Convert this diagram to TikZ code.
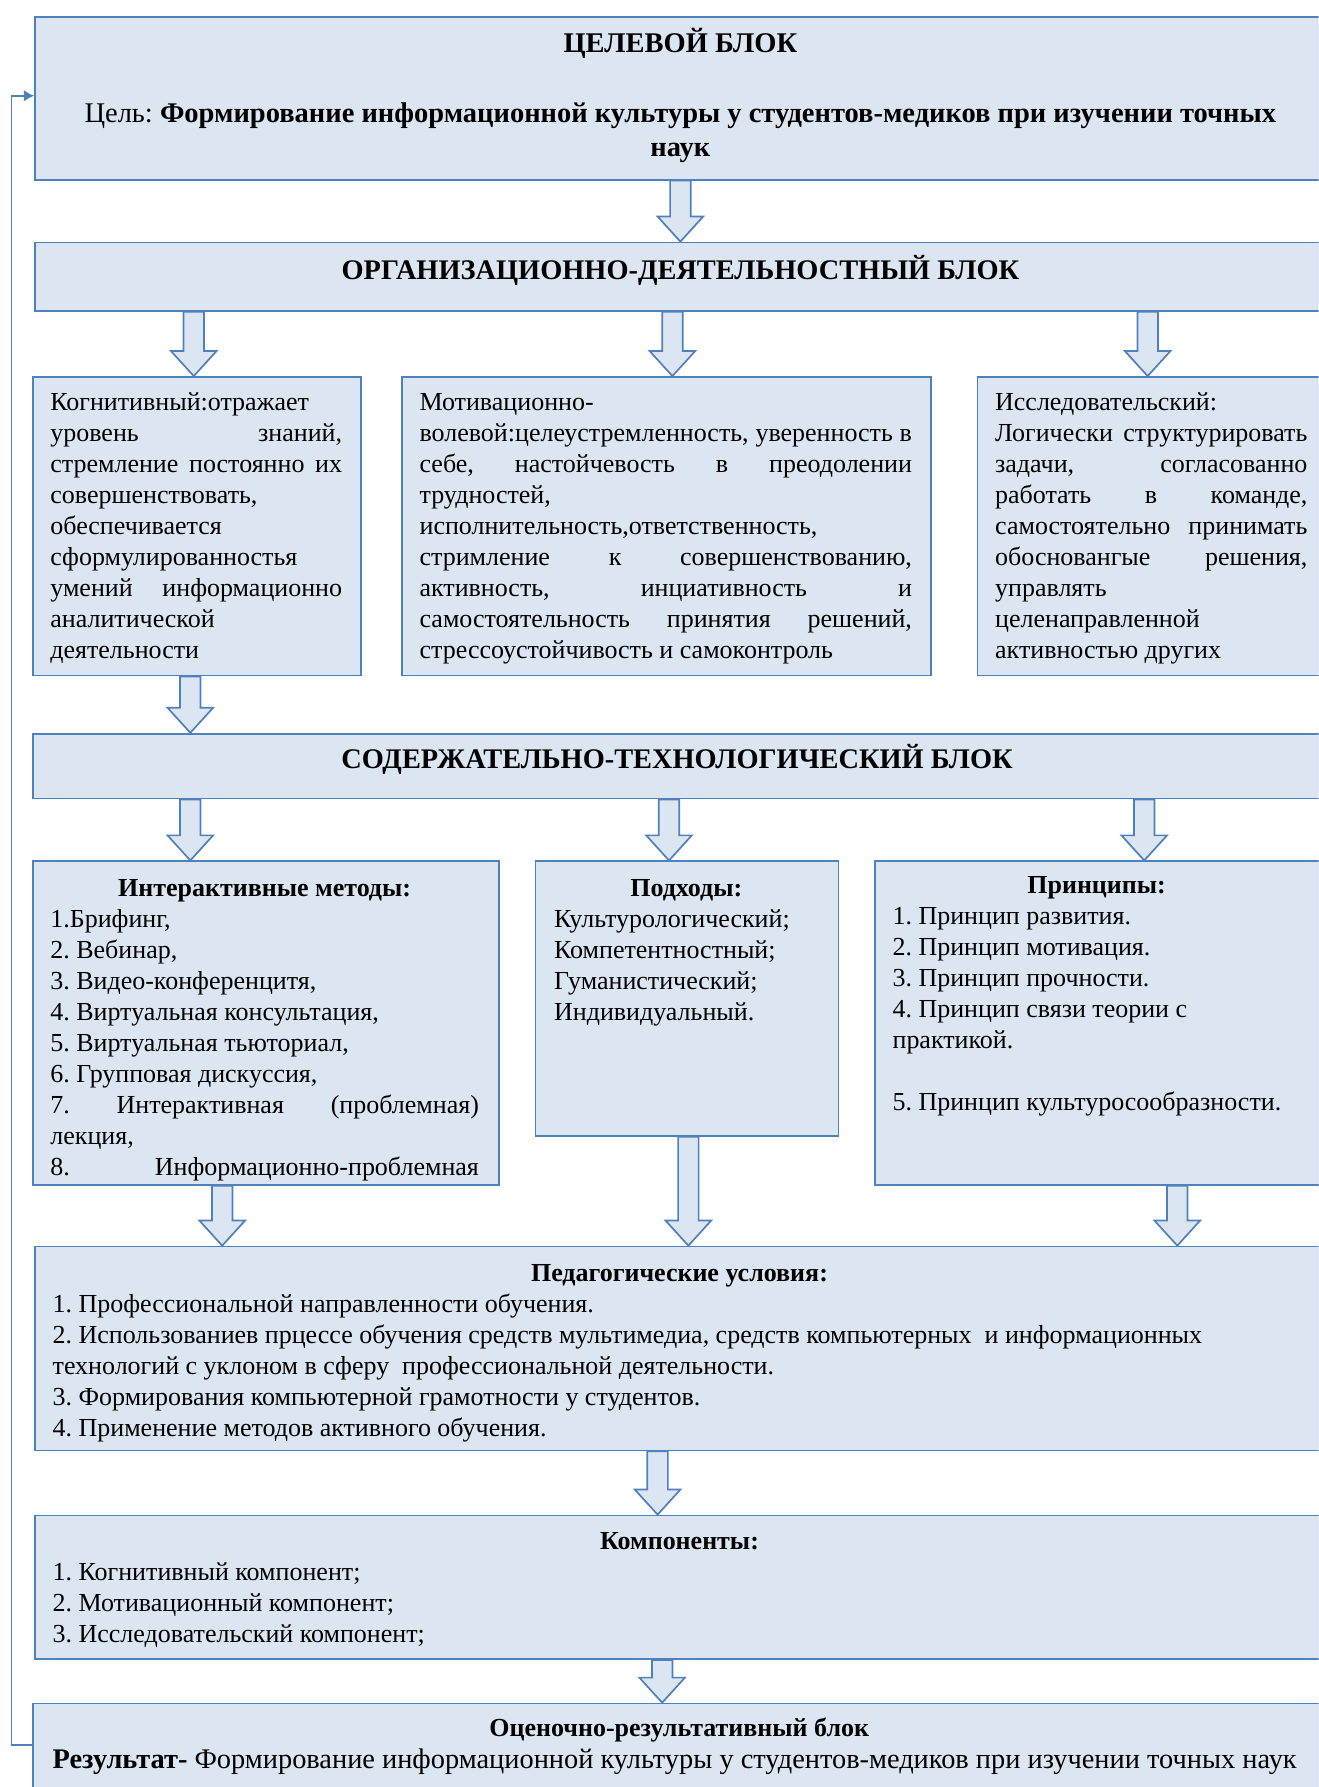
\documentclass[tikz,border=0pt]{standalone}
\usepackage{fontspec}
\setmainfont{Liberation Serif}
\usetikzlibrary{calc,arrows.meta}
\definecolor{bord}{HTML}{4F81BD}
\definecolor{fillc}{HTML}{DCE6F2}
\newcommand\bodyf{\fontsize{22.8}{27.2}\selectfont\frenchspacing}
\newcommand\bigf{\fontsize{25}{30}\selectfont\frenchspacing}
\newcommand\titf{\fontsize{24.9}{27.2}\selectfont\bfseries}
\newcommand\jl[2]{\makebox[#1][s]{\spaceskip=.25em plus 1fil\relax #2}}
\newcommand\barrow[2]{%
  \draw[barr] let \p1=(#1), \p2=(#2) in
    (\x1-9pt,\y1) -- (\x1+9pt,\y1) -- (\x1+9pt,\y2+22pt) -- (\x1+20pt,\y2+22pt)
    -- (\x1,\y2) -- (\x1-20pt,\y2+22pt) -- (\x1-9pt,\y2+22pt) -- cycle;}
\begin{document}
\begin{tikzpicture}[x=1pt,y=-1pt,
  blk/.style={draw=bord, fill=fillc, line width=1.5pt, rectangle, inner sep=0pt, anchor=north west},
  barr/.style={draw=bord, fill=fillc, line width=1.5pt, line join=miter},
  txt/.style={inner sep=0pt, anchor=north west, align=left, font=\bodyf, execute at begin node={\spaceskip=0pt\relax\strut}},
  ttl/.style={inner sep=0pt, anchor=base, font=\titf},
  fb/.style={draw=bord, line width=1.5pt}]
\useasboundingbox (0,0) rectangle (1157,1568);
\clip (0,0) rectangle (1157,1568);
% boxes
\node[blk, minimum width=1135pt, minimum height=143pt] (goal) at (30,14) {};
\node[blk, minimum width=1135pt, minimum height=60pt] (org) at (30,212) {};
\node[blk, minimum width=288pt, minimum height=262pt] (kog) at (28,330) {};
\node[blk, minimum width=464pt, minimum height=262pt] (mot) at (352,330) {};
\node[blk, minimum width=318pt, minimum height=262pt] (iss) at (857,330) {};
\node[blk, minimum width=1137pt, minimum height=57pt] (sod) at (28,643) {};
\node[blk, minimum width=409pt, minimum height=284pt] (inter) at (28,755) {};
\node[blk, minimum width=266pt, minimum height=241pt] (podh) at (469,755) {};
\node[blk, minimum width=408pt, minimum height=284pt] (princ) at (767,755) {};
\node[blk, minimum width=1135pt, minimum height=179pt] (ped) at (30,1093) {};
\node[blk, minimum width=1135pt, minimum height=126pt] (komp) at (30,1329) {};
\node[blk, minimum width=1137pt, minimum height=90pt] (ocen) at (28,1494) {};
% column coordinates
\coordinate (a1) at (597,0);
\coordinate (a2) at (170,0);
\coordinate (a3) at (590,0);
\coordinate (a4) at (1007,0);
\coordinate (a5) at (167,0);
\coordinate (a6) at (167,0);
\coordinate (a7) at (587,0);
\coordinate (a8) at (1004,0);
\coordinate (a9) at (195,0);
\coordinate (a10) at (604,0);
\coordinate (a11) at (1033,0);
\coordinate (a12) at (577,0);
\coordinate (a13) at (581,0);
% block arrows
\barrow{goal.south -| a1}{org.north -| a1}
\barrow{org.south -| a2}{kog.north -| a2}
\barrow{org.south -| a3}{mot.north -| a3}
\barrow{org.south -| a4}{iss.north -| a4}
\barrow{kog.south -| a5}{sod.north -| a5}
\barrow{sod.south -| a6}{inter.north -| a6}
\barrow{sod.south -| a7}{podh.north -| a7}
\barrow{sod.south -| a8}{princ.north -| a8}
\barrow{inter.south -| a9}{ped.north -| a9}
\barrow{podh.south -| a10}{ped.north -| a10}
\barrow{princ.south -| a11}{ped.north -| a11}
\barrow{ped.south -| a12}{komp.north -| a12}
\barrow{komp.south -| a13}{ocen.north -| a13}
% feedback line
\coordinate (fbl) at (10,1531);
\coordinate (fbt) at (10,84);
\draw[fb, -{Latex[length=9pt,width=10pt]}] (ocen.west |- fbl) -- (fbl) -- (fbt) -- (goal.west |- fbt);
% texts
\node[ttl, font=\bigf\bfseries] (t1) at (597,46) {ЦЕЛЕВОЙ БЛОК};
\node[inner sep=0pt, anchor=north, align=center, font=\bigf, execute at begin node={\spaceskip=0pt\relax\strut}] (t2) at (597,90)
  {Цель: \textbf{Формирование информационной культуры у студентов-медиков при изучении точных}\\\textbf{наук}};
\node[ttl] (t3) at (597,245) {ОРГАНИЗАЦИОННО-ДЕЯТЕЛЬНОСТНЫЙ БЛОК};
\node[txt, text width=256pt] (t4) at (44,341) {Когнитивный:отражает\\
\jl{256pt}{уровень знаний,}\\
\jl{256pt}{стремление постоянно их}\\
совершенствовать,\\
обеспечивается\\
сформулированностья\\
\jl{256pt}{умений информационно}\\
аналитической\\
деятельности};
\node[txt, text width=432pt] (t5) at (368,341) {Мотивационно-\\
\jl{432pt}{волевой:целеустремленность, уверенность в}\\
\jl{432pt}{себе, настойчевость в преодолении}\\
трудностей,\\
исполнительность,ответственность,\\
\jl{432pt}{стримление к совершенствованию,}\\
\jl{432pt}{активность, инциативность и}\\
\jl{432pt}{самостоятельность принятия решений,}\\
стрессоустойчивость и самоконтроль};
\node[txt, text width=274pt] (t6) at (873,341) {Исследовательский:\\
\jl{274pt}{Логически структурировать}\\
\jl{274pt}{задачи, согласованно}\\
\jl{274pt}{работать в команде,}\\
\jl{274pt}{самостоятельно принимать}\\
\jl{274pt}{обосновангые решения,}\\
управлять\\
целенаправленной\\
активностью других};
\node[ttl] (t7) at (594,674) {СОДЕРЖАТЕЛЬНО-ТЕХНОЛОГИЧЕСКИЙ БЛОК};
\begin{scope}
\clip (inter.north west) rectangle (inter.south east);
\node[txt, text width=376pt] (t8) at (44,767) {\makebox[376pt][c]{\bfseries Интерактивные методы:}\\
1.Брифинг,\\
2. Вебинар,\\
3. Видео-конференцитя,\\
4. Виртуальная консультация,\\
5. Виртуальная тьюториал,\\
6. Групповая дискуссия,\\
\jl{376pt}{7. Интерактивная (проблемная)}\\
лекция,\\
\jl{376pt}{8. Информационно-проблемная}};
\end{scope}
\node[txt, text width=232pt] (t9) at (486,767) {\makebox[232pt][c]{\bfseries Подходы:}\\
Культурологический;\\
Компетентностный;\\
Гуманистический;\\
Индивидуальный.};
\node[txt, text width=358pt] (t10) at (783,765) {\makebox[358pt][c]{\bfseries Принципы:}\\
1. Принцип развития.\\
2. Принцип мотивация.\\
3. Принцип прочности.\\
4. Принцип связи теории с\\
практикой.\\
\strut\\
5. Принцип культуросообразности.};
\node[txt, text width=1100pt] (t11) at (46,1105) {\makebox[1100pt][c]{\bfseries Педагогические условия:}\\
1. Профессиональной направленности обучения.\\
2. Использованиев прцессе обучения средств мультимедиа, средств компьютерных\ \ и информационных\\
технологий с уклоном в сферу\ \ профессиональной деятельности.\\
3. Формирования компьютерной грамотности у студентов.\\
4. Применение методов активного обучения.};
\node[txt, text width=1100pt] (t12) at (46,1340) {\makebox[1100pt][c]{\bfseries Компоненты:}\\
1. Когнитивный компонент;\\
2. Мотивационный компонент;\\
3. Исследовательский компонент;};
\node[inner sep=0pt, anchor=base, font=\bodyf\bfseries] (t13) at (596,1524) {Оценочно-результативный блок};
\node[inner sep=0pt, anchor=base west, font=\fontsize{24.9}{30}\selectfont\frenchspacing] (t14) at (46,1552)
  {\textbf{Результат-} Формирование информационной культуры у студентов-медиков при изучении точных наук};
\end{tikzpicture}
\end{document}
